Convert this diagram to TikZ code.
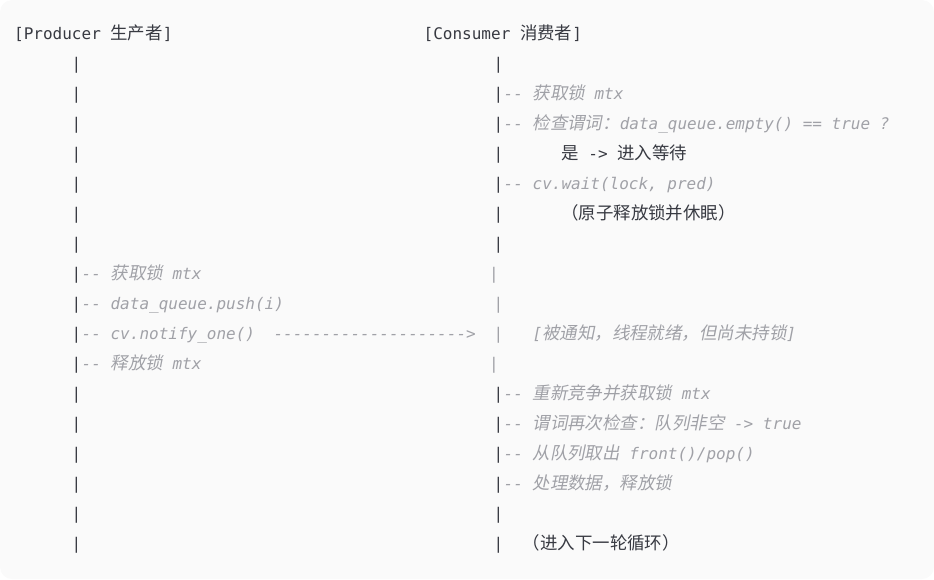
\documentclass[tikz,border=0pt]{standalone}
\usepackage{fontspec}
\setmonofont{DejaVu Sans Mono}
\newfontfamily\zhfont{Noto Sans CJK SC}[Scale=1.09]
\newfontfamily\zhslant{Noto Sans CJK SC}[Scale=1.09,FakeSlant=0.2]
\newcommand{\zh}[1]{{\upshape\zhfont #1}}
\newcommand{\zhi}[1]{{\upshape\zhslant #1}}
\definecolor{codebg}{HTML}{FAFAFA}
\definecolor{codefg}{HTML}{383A42}
\definecolor{cmtgrey}{HTML}{A0A1A7}

\begin{document}
\frenchspacing
\begin{tikzpicture}[x=1pt,y=-1pt,
	code/.style={font=\ttfamily\fontsize{16}{18}\selectfont,text=codefg,inner sep=0pt,anchor=base west},
	cmt/.style={code,font=\ttfamily\itshape\fontsize{16}{18}\selectfont,text=cmtgrey},
	bar/.style={code,anchor=base},
	greybar/.style={cmt,anchor=base}]
	\useasboundingbox (0,0) rectangle (934,579);
	\fill[codebg,rounded corners=12pt] (0,0) rectangle (934,579);
	% headers
	\node[code] (prod) at (14,39) {[Producer \zh{生产者}]};
	\node[code] (cons) at (423.5,39) {[Consumer \zh{消费者}]};
	% life lines
	\foreach \r in {1,...,17}
		\node[bar] (pb\r) at (76.5,39+30*\r) {|};
	\foreach \r in {1,...,7,12,13,...,17}
		\node[bar] (cb\r) at (498.5,39+30*\r) {|};
	\node[greybar] (cg8) at (494,279) {|};
	\node[greybar] (cg9) at (498.5,309) {|};
	\node[greybar] (cg10) at (498.5,339) {|};
	\node[greybar] (cg11) at (494,369) {|};
	% consumer steps
	\node[cmt] (c2) at (cb2.base east) {-- \zhi{获取锁} mtx};
	\node[cmt] (c3) at (cb3.base east) {-- \zhi{检查谓词：}data\_queue.empty() == true ?};
	\node[code] (c4) at (561.1,159) {\zh{是} -> \zh{进入等待}};
	\node[cmt] (c5) at (cb5.base east) {-- cv.wait(lock, pred)};
	\node[code] (c6) at (561.1,219) {\zh{（原子释放锁并休眠）}};
	% producer steps
	\node[cmt] (p8) at (pb8.base east) {-- \zhi{获取锁} mtx};
	\node[cmt] (p9) at (pb9.base east) {-- data\_queue.push(i)};
	\node[cmt] (p10) at (pb10.base east) {-- cv.notify\_one()};
	\node[cmt] (arrow) at (273.3,339) {-------------------->};
	\node[cmt] (c10) at (532.5,339) {[\zhi{被通知，线程就绪，但尚未持锁}]};
	\node[cmt] (p11) at (pb11.base east) {-- \zhi{释放锁} mtx};
	% consumer after wake up
	\node[cmt] (c12) at (cb12.base east) {-- \zhi{重新竞争并获取锁} mtx};
	\node[cmt] (c13) at (cb13.base east) {-- \zhi{谓词再次检查：队列非空} -> true};
	\node[cmt] (c14) at (cb14.base east) {-- \zhi{从队列取出} front()/pop()};
	\node[cmt] (c15) at (cb15.base east) {-- \zhi{处理数据，释放锁}};
	\node[code] (c17) at (522.7,549) {\zh{（进入下一轮循环）}};
\end{tikzpicture}
\end{document}
